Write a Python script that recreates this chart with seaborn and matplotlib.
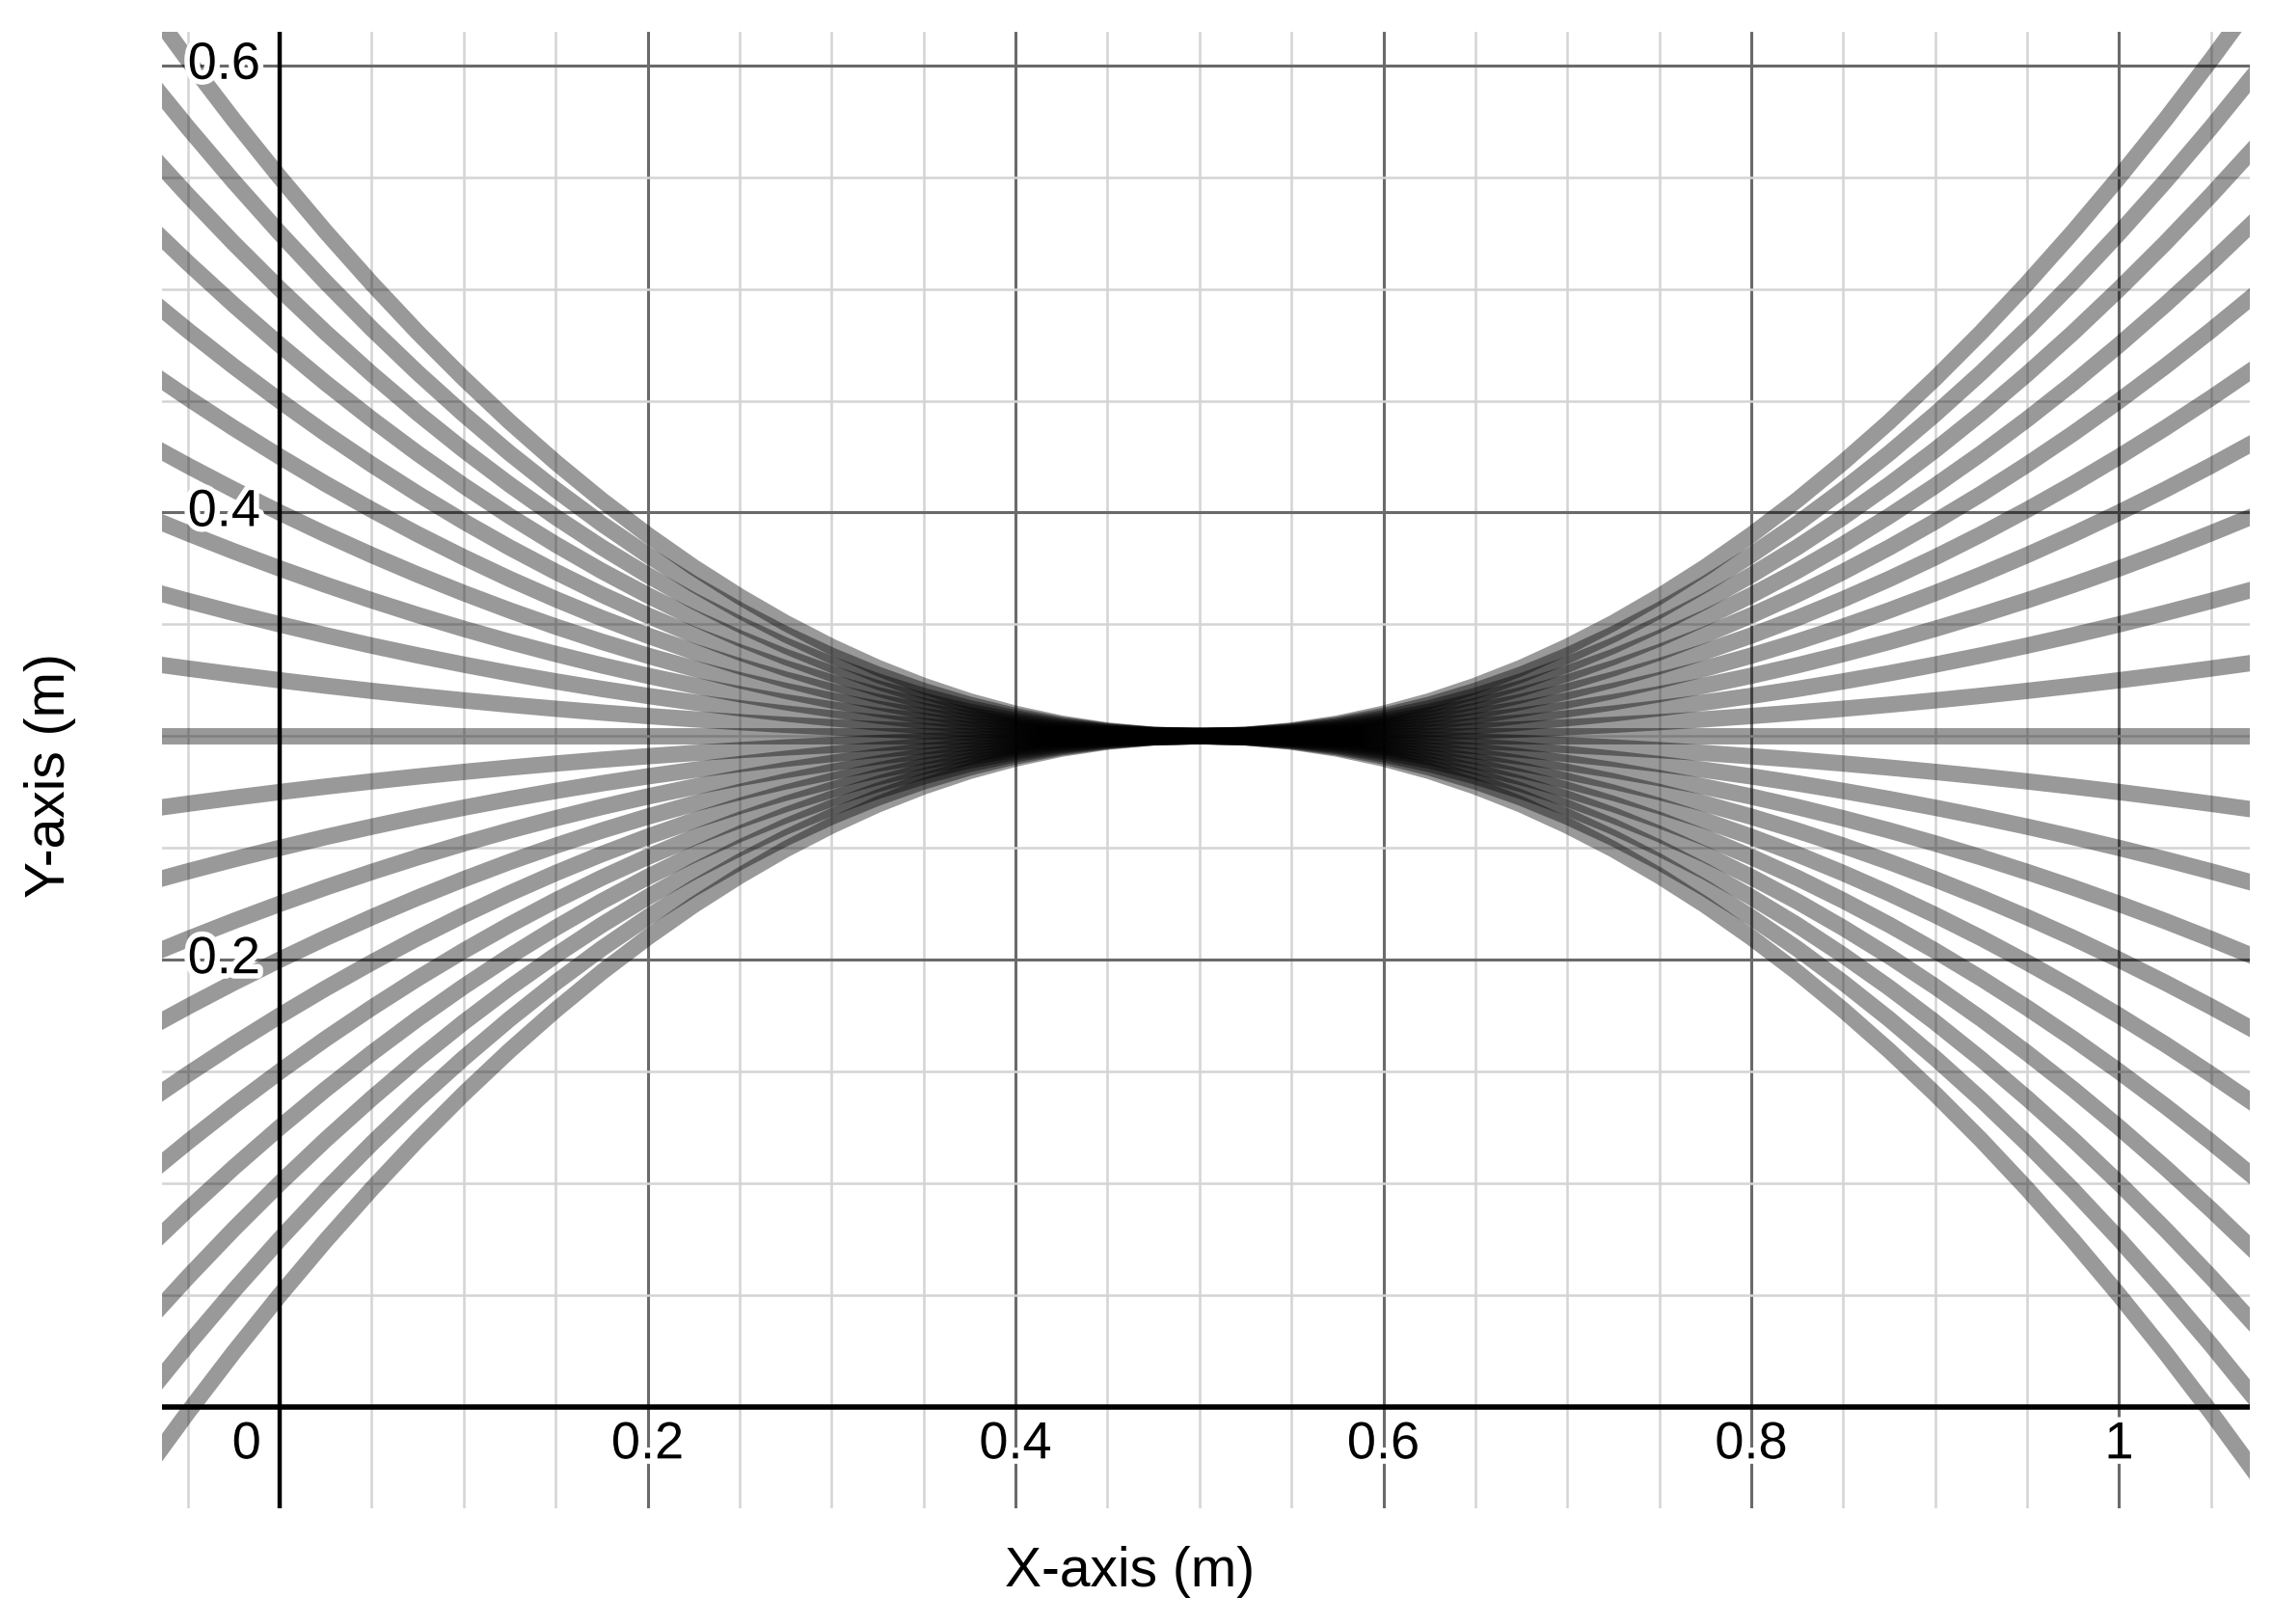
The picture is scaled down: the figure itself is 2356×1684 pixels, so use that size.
import numpy as np
import pandas as pd
import matplotlib
matplotlib.use("Agg")
import matplotlib.pyplot as plt
import matplotlib.patheffects as pe
from matplotlib.ticker import MultipleLocator
import seaborn as sns

# values
# x positions where the curves were sampled
x_pts = [-0.1, -0.075, -0.05, -0.025, 0.0, 0.025, 0.05, 0.075, 0.1, 0.125,
         0.15, 0.175, 0.2, 0.225, 0.25, 0.275, 0.3, 0.325, 0.35, 0.375,
         0.4, 0.425, 0.45, 0.475, 0.5, 0.525, 0.55, 0.575, 0.6, 0.625,
         0.65, 0.675, 0.7, 0.725, 0.75, 0.775, 0.8, 0.825, 0.85, 0.875,
         0.9, 0.925, 0.95, 0.975, 1.0, 1.025, 1.05, 1.075, 1.1]
# offset of the outermost curve from the centre line at those x
top_dev = [0.36, 0.3306, 0.3025, 0.2756, 0.25, 0.2256, 0.2025, 0.1806, 0.16, 0.1406,
           0.1225, 0.1056, 0.09, 0.0756, 0.0625, 0.0506, 0.04, 0.0306, 0.0225, 0.0156,
           0.01, 0.0056, 0.0025, 0.0006, 0.0, 0.0006, 0.0025, 0.0056, 0.01, 0.0156,
           0.0225, 0.0306, 0.04, 0.0506, 0.0625, 0.0756, 0.09, 0.1056, 0.1225, 0.1406,
           0.16, 0.1806, 0.2025, 0.2256, 0.25, 0.2756, 0.3025, 0.3306, 0.36]
# each curve is a fraction of that offset (21 curves, evenly spaced at the edges)
curve_coef = [-1.0, -0.9, -0.8, -0.7, -0.6, -0.5, -0.4, -0.3, -0.2, -0.1, 0.0,
              0.1, 0.2, 0.3, 0.4, 0.5, 0.6, 0.7, 0.8, 0.9, 1.0]
center_y = 0.3

x_ticks = [0.2, 0.4, 0.6, 0.8, 1.0]
x_tick_labels = ["0.2", "0.4", "0.6", "0.8", "1"]
y_ticks = [0.2, 0.4, 0.6]
y_tick_labels = ["0.2", "0.4", "0.6"]

rows = []
for i, c in enumerate(curve_coef):
    for xv, dv in zip(x_pts, top_dev):
        rows.append({"curve": i, "x": xv, "y": center_y + c * dv})
df = pd.DataFrame(rows)

sns.set_theme(style="white")
plt.rcParams["font.family"] = ["Liberation Sans", "DejaVu Sans"]

fig = plt.figure(figsize=(11.78, 8.42), dpi=200)
ax = fig.add_axes([0.0713, 0.0713, 0.9189, 0.9091])

sns.lineplot(data=df, x="x", y="y", units="curve", estimator=None, sort=False,
             color="black", alpha=0.4, linewidth=6.1, ax=ax, zorder=2,
             solid_capstyle="butt")

ax.set_xlim(-0.064, 1.071)
ax.set_ylim(-0.0453, 0.615)

# desmos style grid
ax.xaxis.set_major_locator(MultipleLocator(0.2))
ax.yaxis.set_major_locator(MultipleLocator(0.2))
ax.xaxis.set_minor_locator(MultipleLocator(0.05))
ax.yaxis.set_minor_locator(MultipleLocator(0.05))
ax.grid(which="major", color="#6a6a6a", linewidth=1.1)
ax.grid(which="minor", color="#d4d4d4", linewidth=0.9)
ax.set_axisbelow(True)
ax.tick_params(which="both", length=0, labelbottom=False, labelleft=False)
for s in ax.spines.values():
    s.set_visible(False)

ax.axhline(0, color="black", linewidth=2.0, zorder=3)
ax.axvline(0, color="black", linewidth=1.6, zorder=3)

halo = [pe.withStroke(linewidth=4, foreground="white")]
for xv, lab in zip(x_ticks, x_tick_labels):
    ax.text(xv, -0.017, lab, ha="center", va="center", fontsize=19.5,
            color="black", zorder=5, path_effects=halo)
ax.text(-0.018, -0.017, "0", ha="center", va="center", fontsize=19.5,
        color="black", zorder=5, path_effects=halo)
for yv, lab in zip(y_ticks, y_tick_labels):
    ax.text(-0.0105, yv, lab, ha="right", va="center", fontsize=19.5,
            color="black", zorder=5, path_effects=halo)

ax.set_xlabel("X-axis (m)", fontsize=20.5, color="black")
ax.set_ylabel("Y-axis (m)", fontsize=20.5, color="black")
ax.xaxis.set_label_coords(0.4637, -0.0431)
ax.yaxis.set_label_coords(-0.0536, 0.4964)
ax.xaxis.label.set_va("center")
ax.yaxis.label.set_va("center")

fig.savefig("out.png", dpi=200, facecolor="white")
